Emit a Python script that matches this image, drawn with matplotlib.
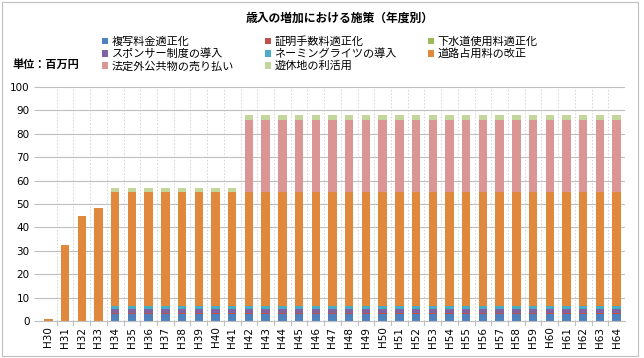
import numpy as np
import matplotlib
matplotlib.use('Agg')
import matplotlib.pyplot as plt
from matplotlib.patches import Rectangle

plt.rcParams['font.family'] = ['Noto Sans CJK JP', 'DejaVu Sans']

years = ['H30', 'H31', 'H32', 'H33'] + [f'H{n}' for n in range(34, 65)]
n = len(years)

series_names = ['複写料金適正化', '証明手数料適正化', '下水道使用料適正化',
                'スポンサー制度の導入', 'ネーミングライツの導入', '道路占用料の改正',
                '法定外公共物の売り払い', '遊休地の利活用']
colors = ['#4F81BD', '#C0504D', '#9BBB59', '#8064A2', '#4BACC6', '#E0883C',
          '#D99694', '#C3D69B']

# values (millions of yen)
fukusha = [0, 0, 0, 0] + [3.0] * 31
shomei = [0, 0, 0, 0] + [0.3] * 31
gesui = [0, 0, 0, 0] + [0.2] * 31
sponsor = [0, 0, 0, 0] + [1.5] * 31
naming = [0, 0, 0, 0] + [1.5] * 31
doro = [1.0, 32.3, 45.0, 48.4] + [48.5] * 31
hoteigai = [0, 0, 0, 0] + [0] * 8 + [31.0] * 23
yukyu = [0, 0, 0, 0] + [2.0] * 31

data = [fukusha, shomei, gesui, sponsor, naming, doro, hoteigai, yukyu]

fig = plt.figure(figsize=(6.44, 3.58), dpi=100)
ax = fig.add_axes([40 / 644, 1 - 321 / 358, 585 / 644, 234 / 358])

x = np.arange(n)
bottom = np.zeros(n)
handles = []
for name, vals, c in zip(series_names, data, colors):
    vals = np.array(vals, dtype=float)
    h = ax.bar(x, vals, 0.5, bottom=bottom, color=c, label=name, linewidth=0)
    bottom += vals
    handles.append(h)

ax.set_xlim(-0.5, n - 0.5)
ax.set_ylim(0, 100)
ax.set_yticks(np.arange(0, 101, 10))
ax.set_xticks(x)
ax.set_xticklabels(years, rotation=90, family=['DejaVu Sans'], fontsize=7.5)
for lab in ax.get_yticklabels():
    lab.set_family(['DejaVu Sans'])
    lab.set_fontsize(7.5)
ax.tick_params(axis='x', length=0, pad=4)
ax.tick_params(axis='y', length=4, color='#BFBFBF')

ax.set_axisbelow(True)
ax.yaxis.grid(True, color='#BFBFBF', linewidth=0.8)
for xb in np.arange(0.5, n - 0.5, 1):
    ax.axvline(xb, color='#D0D0D0', linestyle=(0, (2, 2)), linewidth=0.6, zorder=0)
    ax.plot([xb, xb], [0, -1.5], color='#BFBFBF', linewidth=0.8, clip_on=False)
for s in ['top', 'right', 'left']:
    ax.spines[s].set_visible(False)
ax.spines['bottom'].set_color('#BFBFBF')

fig.text(340 / 644, 1 - 18 / 358, '歳入の増加における施策（年度別）', ha='center', va='center',
         fontsize=8.5, fontweight='bold')
fig.text(12 / 644, 1 - 64 / 358, '単位：百万円', ha='left', va='center',
         fontsize=8, fontweight='bold')

order = [0, 3, 6, 1, 4, 7, 2, 5]
leg = fig.legend([handles[i] for i in order], [series_names[i] for i in order],
                 ncol=3, loc='upper left', bbox_to_anchor=(102 / 644, 1 - 36 / 358),
                 frameon=False, fontsize=8, handlelength=0.55, handleheight=0.55,
                 handletextpad=0.3, columnspacing=2.8, labelspacing=0.15,
                 borderpad=0, borderaxespad=0)

fig.patches.append(Rectangle((2 / 644, 2 / 358), 636 / 644, 354 / 358, transform=fig.transFigure,
                             fill=False, edgecolor='#BFBFBF', linewidth=0.8))

fig.savefig('out.png', dpi=100)
